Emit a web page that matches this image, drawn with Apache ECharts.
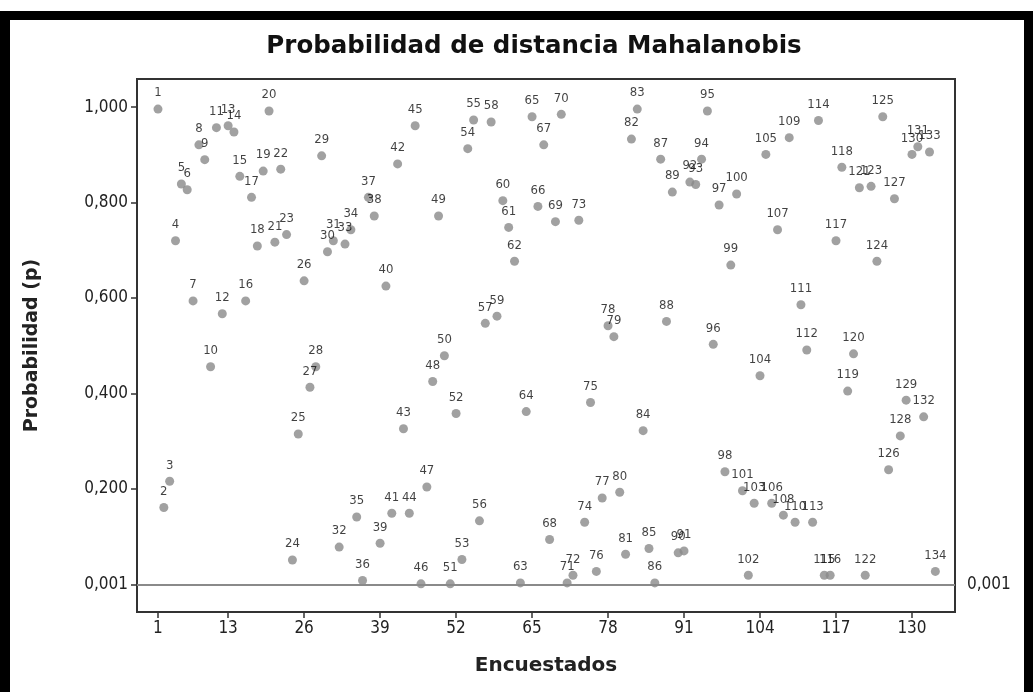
<!DOCTYPE html>
<html>
<head>
<meta charset="utf-8">
<script src="https://cdn.jsdelivr.net/npm/echarts@6/dist/echarts.min.js"></script>
<style>
  html, body { margin: 0; padding: 0; background: #fff; }
  #main { width: 1033px; height: 692px; }
</style>
</head>
<body>
<div id="main"></div>
<script>
// probabilidad, encuestado n = posicion n en la lista
var probabilidad = [
  0.996, 0.161, 0.216, 0.720, 0.839, 0.827, 0.594, 0.921, 0.890, 0.456,
  0.957, 0.567, 0.961, 0.948, 0.855, 0.594, 0.811, 0.709, 0.866, 0.992,
  0.717, 0.870, 0.733, 0.051, 0.315, 0.636, 0.413, 0.456, 0.898, 0.697,
  0.720, 0.078, 0.713, 0.743, 0.141, 0.008, 0.811, 0.772, 0.086, 0.625,
  0.149, 0.881, 0.326, 0.149, 0.961, 0.001, 0.204, 0.425, 0.772, 0.479,
  0.001, 0.358, 0.052, 0.913, 0.973, 0.133, 0.547, 0.969, 0.562, 0.804,
  0.748, 0.677, 0.003, 0.362, 0.980, 0.792, 0.921, 0.094, 0.760, 0.985,
  0.003, 0.019, 0.763, 0.130, 0.381, 0.027, 0.181, 0.542, 0.519, 0.193,
  0.063, 0.933, 0.996, 0.322, 0.075, 0.003, 0.891, 0.551, 0.822, 0.066,
  0.070, 0.843, 0.838, 0.891, 0.992, 0.503, 0.795, 0.236, 0.669, 0.818,
  0.196, 0.019, 0.170, 0.437, 0.901, 0.170, 0.743, 0.145, 0.936, 0.130,
  0.586, 0.491, 0.130, 0.972, 0.019, 0.019, 0.720, 0.874, 0.405, 0.483,
  0.831, 0.019, 0.834, 0.677, 0.980, 0.240, 0.808, 0.311, 0.386, 0.901,
  0.917, 0.351, 0.906, 0.027
];
var xTicks = [1, 13, 26, 39, 52, 65, 78, 91, 104, 117, 130];
var yTicks = [0, 0.2, 0.4, 0.6, 0.8, 1.0];
var limite = 0.001;

var puntos = probabilidad.map(function (p, i) { return [i + 1, p]; });

var fuente = 'DejaVu Sans';
var fuenteEstrecha = '"DejaVu Sans Condensed", "DejaVu Sans"';
var myChart = echarts.init(document.getElementById('main'));

function fmtY(v) {
  if (Math.abs(v) < 1e-9) return '0,001';
  return v.toFixed(3).replace('.', ',');
}

option = {
  backgroundColor: '#fff',
  animation: false,
  title: {
    text: 'Probabilidad de distancia Mahalanobis',
    left: 529,
    top: 29,
    textAlign: 'center',
    textStyle: { fontFamily: fuente, fontSize: 24.5, fontWeight: 'bold', color: '#111' }
  },
  graphic: [
    { type: 'rect', shape: { x: 0, y: 11, width: 1033, height: 9 }, style: { fill: '#000' } },
    { type: 'rect', shape: { x: 0, y: 11, width: 10, height: 681 }, style: { fill: '#000' } },
    { type: 'rect', shape: { x: 1024, y: 11, width: 9, height: 681 }, style: { fill: '#000' } }
  ],
  grid: {
    left: 137, top: 79, right: 78, bottom: 80,
    show: true, borderColor: '#333', borderWidth: 2, backgroundColor: '#fff'
  },
  xAxis: {
    type: 'value',
    min: -2.59, max: 137.36,
    name: 'Encuestados',
    nameLocation: 'middle',
    nameGap: 44,
    nameTextStyle: { fontFamily: fuente, fontSize: 20, fontWeight: 'bold', color: '#222' },
    axisLine: { show: true, onZero: false, lineStyle: { color: '#333', width: 2 } },
    axisTick: { show: true, length: 6, customValues: xTicks, lineStyle: { color: '#333', width: 1.5 } },
    axisLabel: { customValues: xTicks, fontFamily: fuenteEstrecha, fontSize: 17, color: '#222', margin: 8 },
    splitLine: { show: false }
  },
  yAxis: {
    type: 'value',
    min: -0.058, max: 1.059,
    name: 'Probabilidad (p)',
    nameLocation: 'middle',
    nameGap: 95,
    nameTextStyle: { fontFamily: fuente, fontSize: 19, fontWeight: 'bold', color: '#222' },
    axisLine: { show: true, onZero: false, lineStyle: { color: '#333', width: 2 } },
    axisTick: { show: true, length: 6, customValues: yTicks, lineStyle: { color: '#333', width: 1.5 } },
    axisLabel: { customValues: yTicks, formatter: fmtY, fontFamily: fuenteEstrecha, fontSize: 17, color: '#222', margin: 9 },
    splitLine: { show: false }
  },
  series: [
    {
      type: 'scatter',
      data: puntos,
      symbol: 'circle',
      symbolSize: 9,
      itemStyle: { color: '#8a8a8a' },
      label: {
        show: true,
        position: 'top',
        distance: 5,
        formatter: function (p) { return p.value[0]; },
        fontFamily: fuenteEstrecha,
        fontSize: 13,
        color: '#111'
      },
      labelLayout: { hideOverlap: false },
      markLine: {
        silent: true,
        symbol: 'none',
        lineStyle: { color: '#8a8a8a', width: 2, type: 'solid' },
        label: {
          position: 'end',
          distance: 12,
          formatter: '0,001',
          fontFamily: fuenteEstrecha,
          fontSize: 17,
          color: '#222'
        },
        data: [{ yAxis: limite }]
      },
      z: 3
    }
  ]
};

myChart.setOption(option);
window.onresize = myChart.resize;
</script>
</body>
</html>
